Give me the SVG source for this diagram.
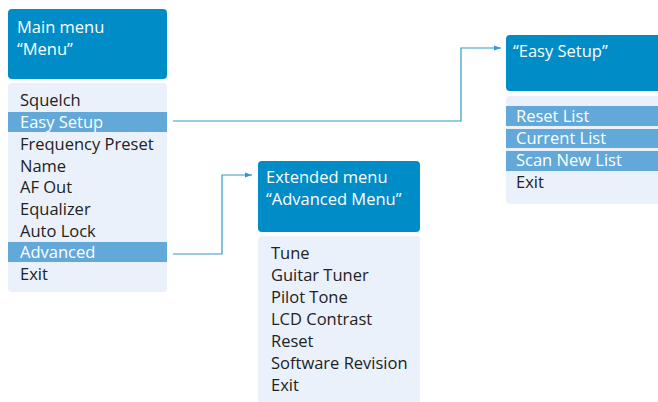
<svg xmlns="http://www.w3.org/2000/svg" width="658" height="402" viewBox="0 0 658 402">
<defs>
<style>
.hdr{fill:#008cc7}
.body{fill:#eaf1fb}
.hl{fill:#62a9d9}
text{font-family:"Open Sans","Liberation Sans",Arial,sans-serif;font-size:16.5px}
.ht{fill:#ffffff}
.it{fill:#222222}
.iw{fill:#ffffff}
.con{fill:none;stroke:#3399cc;stroke-width:1.2}
</style>
<marker id="arr" viewBox="0 0 10 10" refX="10" refY="5" markerWidth="7" markerHeight="7" markerUnits="userSpaceOnUse" orient="auto">
<path d="M0,1.5 L10,5 L0,8.5 Z" fill="#3399cc"/>
</marker>
</defs>
<rect width="658" height="402" fill="#ffffff"/>
<g id="main-menu">
<rect class="hdr" x="8" y="9" width="159" height="70" rx="4"/>
<text class="ht" x="17" y="33">Main menu</text>
<text class="ht" x="17" y="55">“Menu”</text>
<rect class="body" x="8" y="83" width="159" height="209" rx="4"/>
<rect class="hl" x="8" y="112" width="159" height="20"/>
<rect class="hl" x="8" y="242" width="159" height="20"/>
<text class="it" x="20" y="106">Squelch</text>
<text class="iw" x="20" y="128">Easy Setup</text>
<text class="it" x="20" y="150">Frequency Preset</text>
<text class="it" x="20" y="171.5">Name</text>
<text class="it" x="20" y="193">AF Out</text>
<text class="it" x="20" y="215">Equalizer</text>
<text class="it" x="20" y="236.5">Auto Lock</text>
<text class="iw" x="20" y="258">Advanced</text>
<text class="it" x="20" y="280">Exit</text>
</g>
<g id="advanced-menu">
<rect class="hdr" x="258" y="161" width="162" height="71" rx="4"/>
<text class="ht" x="266" y="183">Extended menu</text>
<text class="ht" x="266" y="205">“Advanced Menu”</text>
<rect class="body" x="258" y="236" width="162" height="170" rx="4"/>
<text class="it" x="271" y="259">Tune</text>
<text class="it" x="271" y="281">Guitar Tuner</text>
<text class="it" x="271" y="303">Pilot Tone</text>
<text class="it" x="271" y="325">LCD Contrast</text>
<text class="it" x="271" y="347">Reset</text>
<text class="it" x="271" y="369">Software Revision</text>
<text class="it" x="271" y="391">Exit</text>
</g>
<g id="easy-setup">
<rect class="hdr" x="506" y="35" width="160" height="56" rx="4"/>
<text class="ht" x="513" y="57">“Easy Setup”</text>
<rect class="body" x="506" y="96" width="160" height="108" rx="4"/>
<rect class="hl" x="506" y="106" width="152" height="20"/>
<rect class="hl" x="506" y="129" width="152" height="19"/>
<rect class="hl" x="506" y="151" width="152" height="20"/>
<text class="iw" x="516" y="122">Reset List</text>
<text class="iw" x="516" y="143.5">Current List</text>
<text class="iw" x="516" y="166">Scan New List</text>
<text class="it" x="516" y="188">Exit</text>
</g>
<g id="connectors">
<path class="con" d="M173,121 H461 V48 H501" marker-end="url(#arr)"/>
<path class="con" d="M173,254 H222 V175 H252" marker-end="url(#arr)"/>
</g>
</svg>
